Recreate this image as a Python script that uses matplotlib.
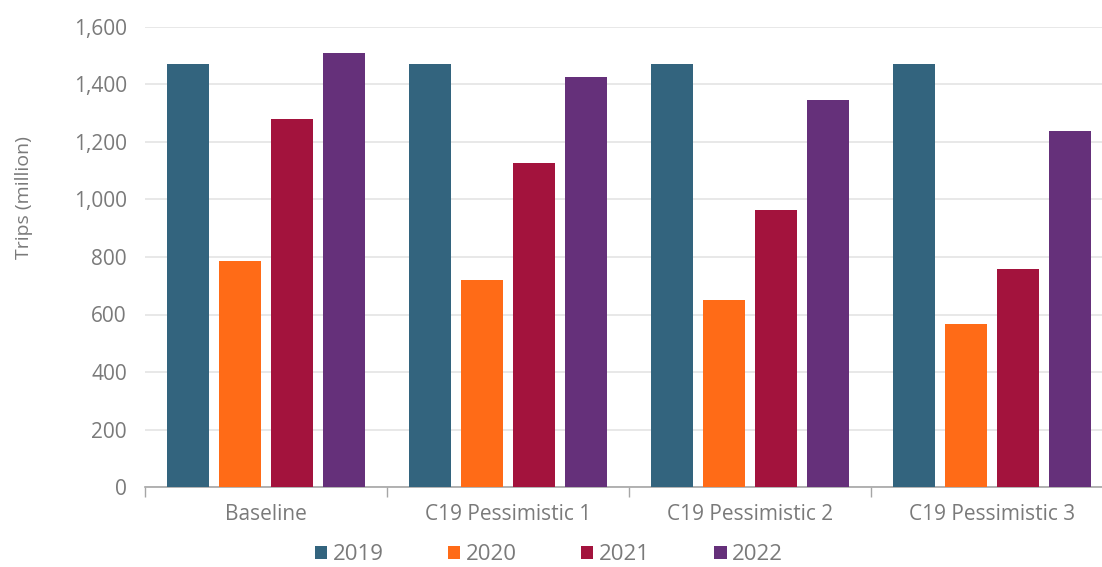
import matplotlib.pyplot as plt
import numpy as np

plt.rcParams['font.family'] = ['Open Sans', 'DejaVu Sans']

scenarios = ["Baseline", "C19 Pessimistic 1", "C19 Pessimistic 2", "C19 Pessimistic 3"]
years = ["2019", "2020", "2021", "2022"]
trips_2019 = [1471, 1471, 1471, 1471]
trips_2020 = [786, 720, 652, 567]
trips_2021 = [1280, 1126, 963, 758]
trips_2022 = [1510, 1426, 1346, 1237]
colors = ["#33647E", "#FF6B17", "#A3133D", "#65307A"]

series = [trips_2019, trips_2020, trips_2021, trips_2022]
text_color = "#7a7a7a"

fig = plt.figure(figsize=(11.02, 5.67), dpi=100)
ax = fig.add_axes([145 / 1102, 1 - 487 / 567, (1113 - 145) / 1102, (487 - 27) / 567])

x = np.arange(len(scenarios))
step = 0.216
width = 0.173
for i, (vals, yr, c) in enumerate(zip(series, years, colors)):
    ax.bar(x + (i - 1.5) * step, vals, width, color=c, label=yr, zorder=3)

ax.set_xlim(-0.5, 3.5)
ax.set_ylim(0, 1600)
ax.set_yticks(range(0, 1601, 200))
ax.set_yticklabels([f"{v:,}" for v in range(0, 1601, 200)])
ax.yaxis.grid(True, color="#e6e6e6", linewidth=1.3, zorder=0)
ax.set_axisbelow(True)

ax.set_xticks(x)
ax.set_xticklabels(scenarios)
ax.set_xticks([-0.5, 0.5, 1.5, 2.5, 3.5], minor=True)
ax.tick_params(axis="x", which="major", length=0, pad=12, labelsize=15, labelcolor=text_color)
ax.tick_params(axis="x", which="minor", length=7, width=1, color="#a6a6a6", direction="out")
ax.tick_params(axis="y", length=0, pad=13, labelsize=15, labelcolor=text_color)

for s in ["top", "right", "left"]:
    ax.spines[s].set_visible(False)
ax.spines["bottom"].set_color("#a6a6a6")
ax.spines["bottom"].set_linewidth(1.2)

ax.set_ylabel("Trips (million)", fontsize=14, color=text_color)
ax.yaxis.set_label_coords(-0.116, 0.63)

fig.legend(loc="center", bbox_to_anchor=(549 / 1102, 1 - 555 / 567), ncol=4, frameon=False,
           fontsize=16, labelcolor=text_color, handlelength=0.55, handleheight=0.55,
           handletextpad=0.25, columnspacing=2.9, borderpad=0.2)

fig.savefig("out.png", dpi=100)
